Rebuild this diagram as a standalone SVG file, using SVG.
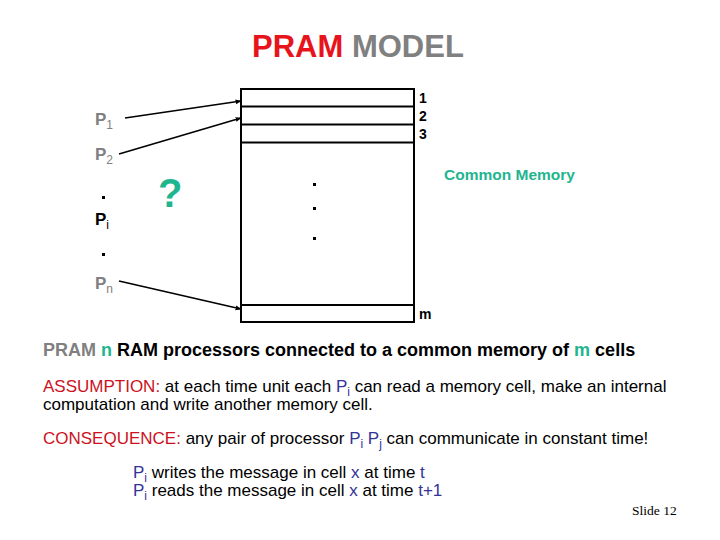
<svg xmlns="http://www.w3.org/2000/svg" width="720" height="540" viewBox="0 0 720 540">
<style>
text{font-family:"Liberation Sans",Arial,sans-serif}
.b{font-weight:bold}
.gray{fill:#808080}
.teal{fill:#1fb58f}
.blue{fill:#333399}
.red{fill:#cc1122}
.cell{fill:none;stroke:#000;stroke-width:2}
.conn{stroke:#000;stroke-width:1.6;fill:none;marker-end:url(#ah)}
.t17{font-size:17px}
.sub{font-size:12px;font-weight:normal}
</style>
<defs>
<marker id="ah" viewBox="0 0 10 10" refX="9" refY="5" markerWidth="6" markerHeight="6" orient="auto" markerUnits="userSpaceOnUse">
<path d="M0,1 L10,5 L0,9 z" fill="#000"/>
</marker>
</defs>
<rect width="720" height="540" fill="#fff"/>
<g id="title"><text x="252" y="57" font-size="31" class="b"><tspan fill="#e8141c">PRAM</tspan><tspan class="gray"> MODEL</tspan></text></g>
<g id="memory">
<rect class="cell" x="241" y="89" width="173" height="233"/>
<line class="cell" x1="241" y1="106.5" x2="414" y2="106.5"/>
<line class="cell" x1="241" y1="124.5" x2="414" y2="124.5"/>
<line class="cell" x1="241" y1="142.5" x2="414" y2="142.5"/>
<line class="cell" x1="241" y1="305" x2="414" y2="305"/>
<rect x="313" y="183" width="3" height="3"/>
<rect x="313" y="207" width="3" height="3"/>
<rect x="313" y="237" width="3" height="3"/>
<text x="419" y="103" font-size="14" class="b">1</text>
<text x="419" y="121" font-size="14" class="b">2</text>
<text x="419" y="139" font-size="14" class="b">3</text>
<text x="419" y="319" font-size="14" class="b">m</text>
<text x="444" y="180" font-size="15.5" class="b teal">Common Memory</text>
</g>
<g id="processors" font-size="17" class="b">
<text x="95" y="125" class="gray">P<tspan class="sub" dy="4">1</tspan></text>
<text x="95" y="160" class="gray">P<tspan class="sub" dy="4">2</tspan></text>
<rect x="102" y="196" width="3" height="3"/>
<text x="95" y="225">P<tspan class="sub" dy="4">i</tspan></text>
<rect x="102" y="253" width="3" height="3"/>
<text x="95" y="289" class="gray">P<tspan class="sub" dy="4">n</tspan></text>
</g>
<g id="question"><text x="158" y="207" font-size="40" class="b teal">?</text></g>
<g id="connectors">
<line class="conn" x1="125" y1="118" x2="241" y2="101"/>
<line class="conn" x1="119" y1="154" x2="241" y2="118"/>
<line class="conn" x1="119" y1="281" x2="241" y2="309"/>
</g>
<g id="text-block">
<text x="43" y="356" font-size="18" class="b"><tspan class="gray">PRAM </tspan><tspan class="teal"> n </tspan>RAM processors connected to a common memory of <tspan class="teal">m</tspan> cells</text>
<text x="43" y="392" class="t17"><tspan class="red">ASSUMPTION:</tspan>  at each time unit each  <tspan class="blue">P<tspan font-size="12" dy="4">i</tspan></tspan><tspan dy="-4"> can read a memory cell, make an internal</tspan></text>
<text x="43" y="410" class="t17">computation and write another memory cell.</text>
<text x="43" y="444" class="t17"><tspan class="red">CONSEQUENCE:</tspan> any pair of processor <tspan class="blue">P<tspan font-size="12" dy="4">i</tspan><tspan dy="-4"> P</tspan><tspan font-size="12" dy="4">j</tspan></tspan><tspan dy="-4"> can communicate in constant time!</tspan></text>
<text x="133" y="478" class="t17"><tspan class="blue">P<tspan font-size="12" dy="4">i</tspan></tspan><tspan dy="-4"> writes the message in cell </tspan><tspan class="blue">x</tspan> at time <tspan class="blue">t</tspan></text>
<text x="133" y="496" class="t17"><tspan class="blue">P<tspan font-size="12" dy="4">i</tspan></tspan><tspan dy="-4"> reads the message  in cell </tspan><tspan class="blue">x</tspan> at time <tspan class="blue">t+1</tspan></text>
<text x="632" y="515" font-size="13.5" style="font-family:'Liberation Serif',serif">Slide 12</text>
</g>
</svg>
